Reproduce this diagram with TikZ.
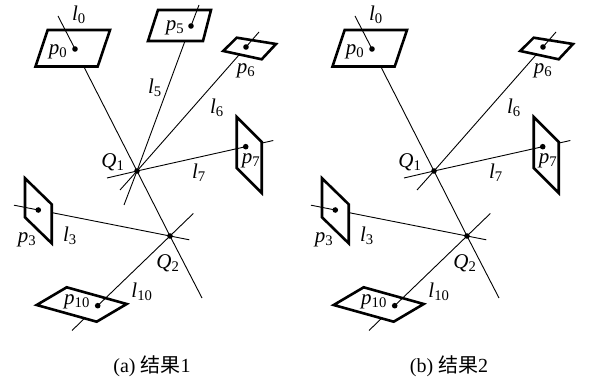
\documentclass[tikz,border=0pt]{standalone}
\usepackage{fontspec}
\setmainfont{Liberation Serif}
\newfontfamily\cjk{Noto Sans CJK SC}
\newcommand{\sym}[2]{\textit{#1}\textsubscript{#2}}
\tikzset{
  ray/.style={line width=0.9pt},
  plane/.style={line width=2.6pt, line join=miter},
  lab/.style={font=\fontsize{21}{24}\selectfont, inner sep=0pt},
  captext/.style={font=\fontsize{20}{23}\selectfont, inner sep=0pt}
}

\begin{document}
\begin{tikzpicture}[x=1pt,y=-1pt]
  \useasboundingbox (0,0) rectangle (608,379);
  % (a) all rays, (b) without p5
  \foreach \sh/\tag/\num in {0/a/1,297/b/2}{
  \begin{scope}[xshift=\sh]
    \coordinate (Q1) at (137,171);
    \coordinate (Q2) at (170,236);
    % rays: outer end, image point, exit from plane, far end
    \coordinate (t0) at (58,16);      \coordinate (p0) at (75,49);
    \coordinate (e0) at (84,67);      \coordinate (b0) at (202,298);
    \coordinate (t6) at (259,32);     \coordinate (p6) at (246,47);
    \coordinate (e6) at (239.4,54.5); \coordinate (b6) at (120,190);
    \coordinate (b7) at (107,178);    \coordinate (p7) at (245.7,146.7);
    \coordinate (e7) at (261.7,143.1);\coordinate (t7) at (273.3,140.5);
    \coordinate (t3) at (14,205.2);   \coordinate (p3) at (38.3,210);
    \coordinate (e3) at (51.7,212.6); \coordinate (b3) at (189.3,239.8);
    \coordinate (t10) at (193.3,213.5);\coordinate (p10) at (97.7,305.7);
    \coordinate (e10) at (84.6,318.3);\coordinate (b10) at (72,330.5);
    \draw[ray] (t0) -- (p0) (e0) -- (Q1) -- (Q2) -- (b0);
    \draw[ray] (t6) -- (p6) (e6) -- (Q1) -- (b6);
    \draw[ray] (b7) -- (Q1) -- (p7) (e7) -- (t7);
    \draw[ray] (t3) -- (p3) (e3) -- (Q2) -- (b3);
    \draw[ray] (t10) -- (Q2) -- (p10) (e10) -- (b10);
    % image planes
    \draw[plane] (47.7,30) -- (110,30) -- (97.7,66.5) -- (35.5,66.5) -- cycle;
    \draw[plane] (223.3,51) -- (236.7,37.7) -- (276,44) -- (261.7,59.3) -- cycle;
    \draw[plane] (236.7,117) -- (261.7,142) -- (261.7,193) -- (236.7,168) -- cycle;
    \draw[plane] (25,178.3) -- (51.7,204.3) -- (51.7,243.3) -- (25,217.3) -- cycle;
    \draw[plane] (36.7,305) -- (66.7,287.3) -- (126.7,304) -- (96.7,321.7) -- cycle;
    \foreach \p in {Q1,Q2,p0,p6,p7,p3,p10}
      \fill (\p) circle (2.8);
    \ifnum\num=1
      \coordinate (t5) at (199,5);   \coordinate (p5) at (191,26);
      \coordinate (e5) at (185,41);  \coordinate (b5) at (124,205);
      \draw[ray] (t5) -- (p5) (e5) -- (Q1) -- (b5);
      \draw[plane] (158,10) -- (211,10) -- (203,41) -- (148,41) -- cycle;
      \fill (p5) circle (2.8);
      \node[lab] (L5) at (155,88) {\sym{l}{5}};
      \node[lab] (P5) at (175,28) {\sym{p}{5}};
    \fi
    % labels
    \node[lab] (L0) at (79,15) {\sym{l}{0}};
    \node[lab] (P0) at (58,52) {\sym{p}{0}};
    \node[lab] (P6) at (246,71) {\sym{p}{6}};
    \node[lab] (L6) at (217,108) {\sym{l}{6}};
    \node[lab] (QQ1) at (113,162) {\sym{Q}{1}};
    \node[lab] (L7) at (199,173) {\sym{l}{7}};
    \node[lab] (P7) at (251,161) {\sym{p}{7}};
    \node[lab] (L3) at (70,236) {\sym{l}{3}};
    \node[lab] (P3) at (27,240) {\sym{p}{3}};
    \node[lab] (QQ2) at (168,263) {\sym{Q}{2}};
    \node[lab] (L10) at (142,292) {\sym{l}{10}};
    \node[lab] (P10) at (77,302) {\sym{p}{10}};
    \node[captext] (cap\tag) at (152,366) {(\tag) {\cjk 结果}\num};
  \end{scope}}
\end{tikzpicture}
\end{document}
